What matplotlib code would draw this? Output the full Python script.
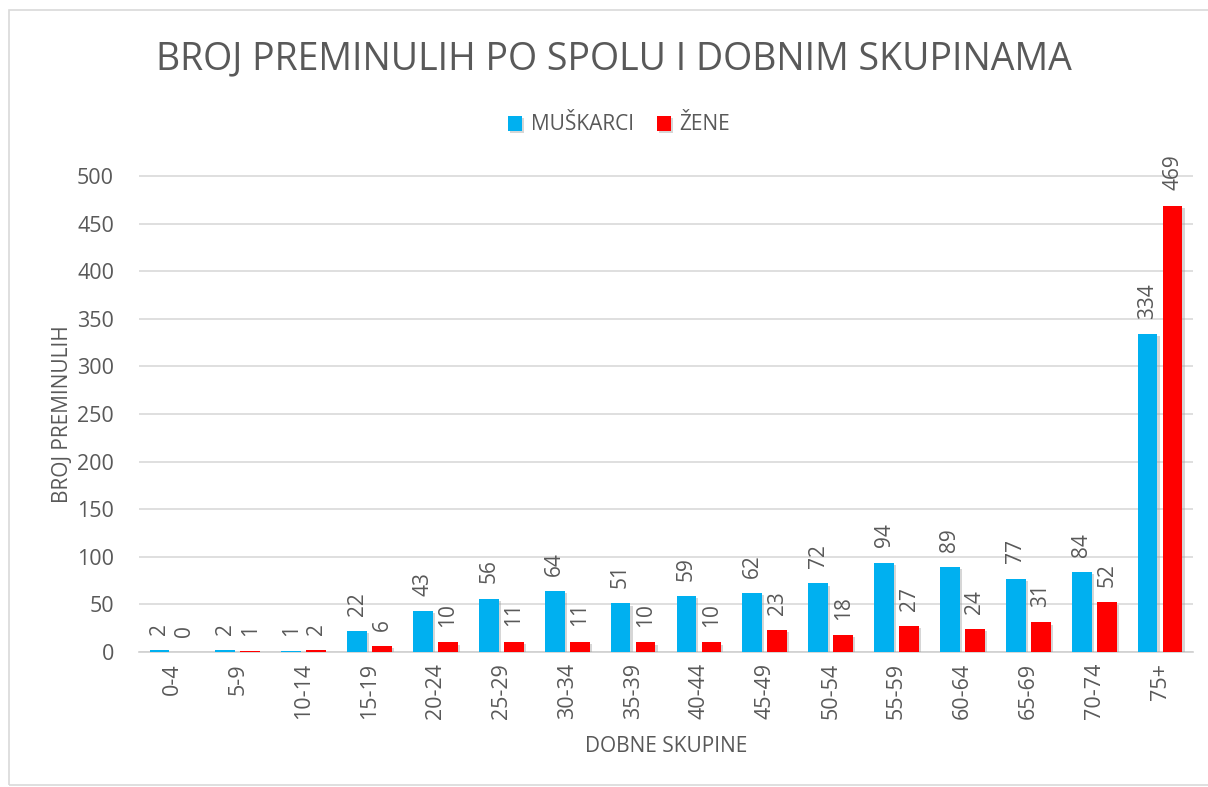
import numpy as np
import matplotlib.pyplot as plt
import matplotlib.patheffects as pe
from matplotlib.patches import Rectangle

# data
groups = ['0-4', '5-9', '10-14', '15-19', '20-24', '25-29', '30-34', '35-39',
          '40-44', '45-49', '50-54', '55-59', '60-64', '65-69', '70-74', '75+']
muskarci = [2, 2, 1, 22, 43, 56, 64, 51, 59, 62, 72, 94, 89, 77, 84, 334]
zene = [0, 1, 2, 6, 10, 11, 11, 10, 10, 23, 18, 27, 24, 31, 52, 469]

plt.rcParams['font.family'] = ['Open Sans', 'DejaVu Sans']
grey = '#595959'

fig = plt.figure(figsize=(12.08, 7.87), dpi=100)
ax = fig.add_axes([139 / 1208, 1 - 652 / 787, 1054 / 1208, 476 / 787 * 1.1])

x = np.arange(len(groups))
w = 0.30
off = 0.19
shadow = [pe.SimplePatchShadow(offset=(1.5, -1.5), shadow_rgbFace='#999999', alpha=0.4), pe.Normal()]
b1 = ax.bar(x - off, muskarci, w, color='#00B0F0', label='MUŠKARCI', zorder=3, path_effects=shadow)
b2 = ax.bar(x + off, zene, w, color='#FF0000', label='ŽENE', zorder=3, path_effects=shadow)

for bars, vals in ((b1, muskarci), (b2, zene)):
    for b, v in zip(bars, vals):
        ax.annotate(str(v), (b.get_x() + b.get_width() / 2, v), xytext=(0, 11),
                    textcoords='offset points', rotation=90, ha='center', va='bottom',
                    fontsize=15, color=grey)

ax.set_xlim(-0.5, len(groups) - 0.5)
ax.set_ylim(0, 550)
ax.set_yticks(range(0, 501, 50))
ax.set_xticks(x)
ax.set_xticklabels(groups, rotation=90)
ax.tick_params(axis='both', length=0, labelsize=15.5, colors=grey, pad=8)
ax.tick_params(axis='y', pad=18)
ax.yaxis.grid(True, color='#d9d9d9', linewidth=1.2, zorder=0)
for s in ['top', 'right', 'left']:
    ax.spines[s].set_visible(False)
ax.spines['bottom'].set_color('#d0d0d0')
ax.spines['bottom'].set_linewidth(1.2)

ax.set_xlabel('DOBNE SKUPINE', fontsize=15, color=grey, labelpad=12)
ax.set_ylabel('BROJ PREMINULIH', fontsize=15, color=grey)
ax.yaxis.set_label_coords(-0.063, 0.455)

fig.text(614 / 1208, 1 - 59 / 787, 'BROJ PREMINULIH PO SPOLU I DOBNIM SKUPINAMA',
         ha='center', va='center', fontsize=27, color=grey)
fig.legend(handles=[b1, b2], loc='center', bbox_to_anchor=(619 / 1208, 1 - 125 / 787),
           ncol=2, frameon=False, fontsize=15, labelcolor=grey, handlelength=0.7,
           handleheight=0.7, handletextpad=0.4, columnspacing=1.1)

fig.patches.append(Rectangle((9 / 1208, 2 / 787), 1.0, 1 - 12 / 787, transform=fig.transFigure,
                             fill=False, edgecolor='#d9d9d9', linewidth=1.2))

fig.savefig('out.png', dpi=100)
